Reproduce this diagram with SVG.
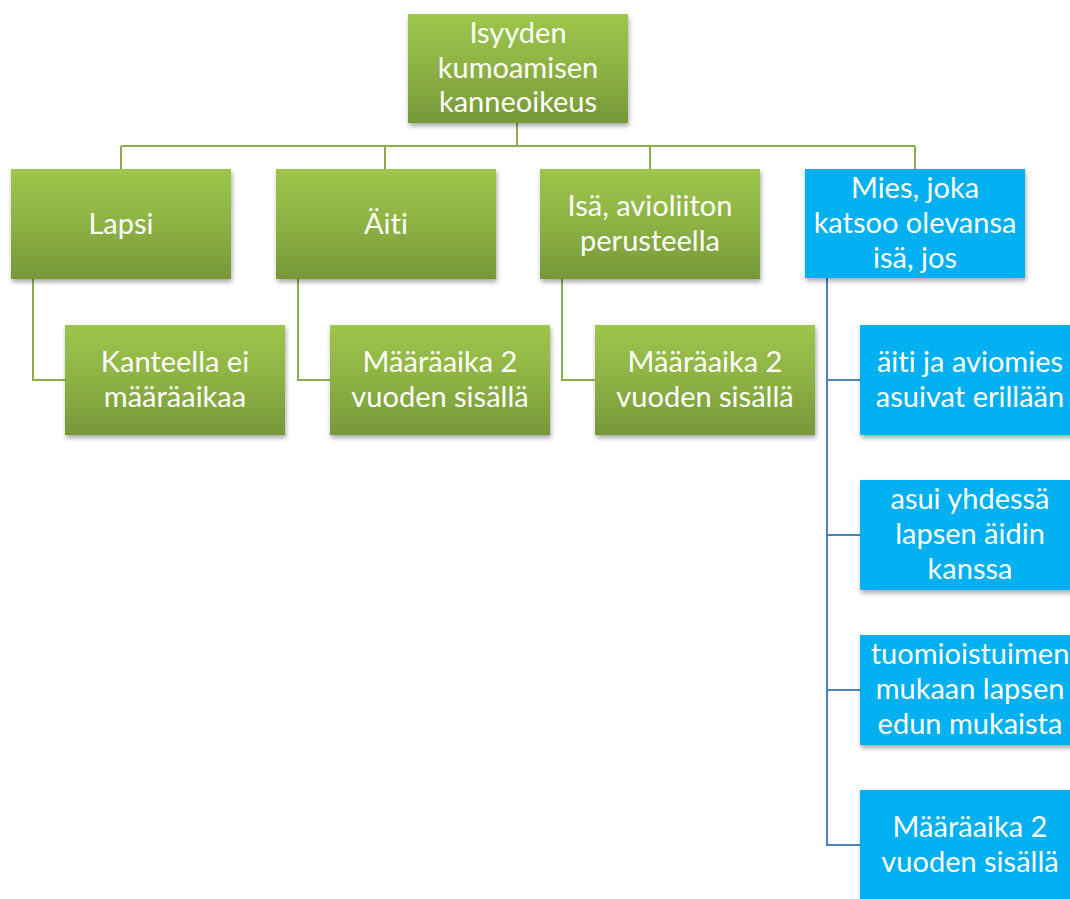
<svg xmlns="http://www.w3.org/2000/svg" width="1070" height="899" viewBox="0 0 1070 899">
<defs>
<linearGradient id="g" x1="0" y1="0" x2="0" y2="1">
<stop offset="0" stop-color="#9DC64B"/>
<stop offset="0.5" stop-color="#8DB244"/>
<stop offset="1" stop-color="#769839"/>
</linearGradient>
<filter id="sh" x="-10%" y="-10%" width="125%" height="130%">
<feGaussianBlur in="SourceAlpha" stdDeviation="2.5"/>
<feOffset dx="1" dy="3" result="b"/>
<feComponentTransfer><feFuncA type="linear" slope="0.35"/></feComponentTransfer>
<feMerge><feMergeNode/><feMergeNode in="SourceGraphic"/></feMerge>
</filter>
</defs>
<style>
.gb{fill:url(#g);filter:url(#sh)}
.bb{fill:#00B0F0;filter:url(#sh)}
text{font-family:Lato,"Open Sans","Liberation Sans",sans-serif;font-size:29px;fill:#FFFFFF;text-anchor:middle;font-variant-ligatures:none}
.gl{fill:none;stroke:#8AAE4E;stroke-width:2}
.bl{fill:none;stroke:#4F81BD;stroke-width:2}
</style>
<rect width="1070" height="899" fill="#FFFFFF"/>
<g id="connectors">
<path class="gl" d="M517 123V146M121 146H915M121 146V169M385 146V169M650 146V169M915 146V169"/>
<path class="gl" d="M33 279V380H65M298 279V380H330M562 279V380H595"/>
<path class="bl" d="M827 278V845H860M827 380H860M827 535H860M827 690H860"/>
</g>
<g id="root"><rect class="gb" x="408" y="14" width="220" height="109"/>
<text x="518" y="43">Isyyden</text><text x="518" y="78">kumoamisen</text><text x="518" y="112">kanneoikeus</text></g>
<g id="lapsi"><rect class="gb" x="11" y="169" width="220" height="110"/>
<text x="121" y="234">Lapsi</text></g>
<g id="aiti"><rect class="gb" x="276" y="169" width="220" height="110"/>
<text x="386" y="234">Äiti</text></g>
<g id="isa"><rect class="gb" x="540" y="169" width="220" height="110"/>
<text x="650" y="216">Isä, avioliiton</text><text x="650" y="251">perusteella</text></g>
<g id="mies"><rect class="bb" x="805" y="169" width="220" height="109"/>
<text x="915" y="198">Mies, joka</text><text x="915" y="233">katsoo olevansa</text><text x="915" y="268">isä, jos</text></g>
<g id="lapsi-c"><rect class="gb" x="65" y="325" width="220" height="110"/>
<text x="175" y="372">Kanteella ei</text><text x="175" y="407">määräaikaa</text></g>
<g id="aiti-c"><rect class="gb" x="330" y="325" width="220" height="110"/>
<text x="440" y="372">Määräaika 2</text><text x="440" y="407">vuoden sisällä</text></g>
<g id="isa-c"><rect class="gb" x="595" y="325" width="220" height="110"/>
<text x="705" y="372">Määräaika 2</text><text x="705" y="407">vuoden sisällä</text></g>
<g id="mies-c1"><rect class="bb" x="860" y="325" width="220" height="110"/>
<text x="970" y="372">äiti ja aviomies</text><text x="970" y="407">asuivat erillään</text></g>
<g id="mies-c2"><rect class="bb" x="860" y="480" width="220" height="110"/>
<text x="970" y="509">asui yhdessä</text><text x="970" y="544">lapsen äidin</text><text x="970" y="579">kanssa</text></g>
<g id="mies-c3"><rect class="bb" x="860" y="635" width="220" height="110"/>
<text x="970" y="664">tuomioistuimen</text><text x="970" y="699">mukaan lapsen</text><text x="970" y="734">edun mukaista</text></g>
<g id="mies-c4"><rect class="bb" x="860" y="790" width="220" height="110"/>
<text x="970" y="837">Määräaika 2</text><text x="970" y="872">vuoden sisällä</text></g>
</svg>
